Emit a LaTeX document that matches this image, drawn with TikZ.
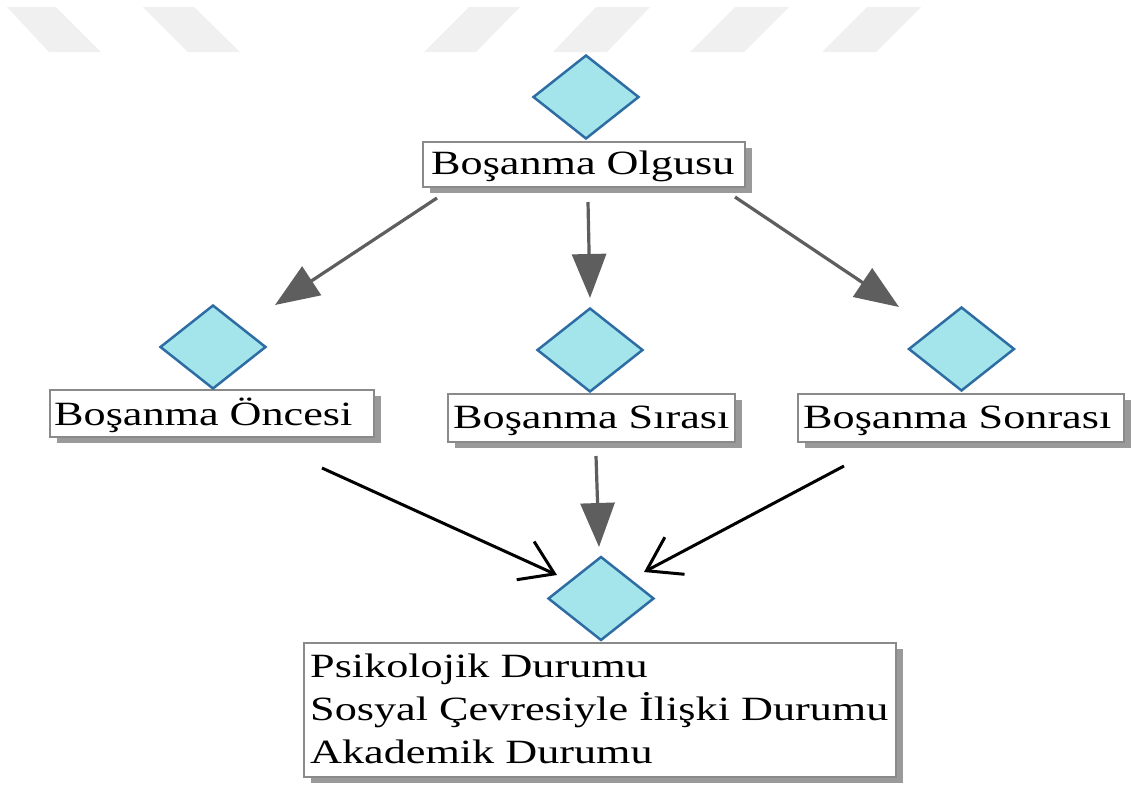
\documentclass[tikz,border=0pt]{standalone}
\usepackage{fontspec}
\newfontfamily\lblfont[FakeStretch=1.3]{Liberation Serif}
\usetikzlibrary{shapes.geometric,arrows.meta,shadows}
\definecolor{dfill}{HTML}{A4E5EC}
\definecolor{dline}{HTML}{2E6DA4}
\definecolor{bline}{HTML}{8A8A8A}
\definecolor{shcol}{HTML}{9A9A9A}
\definecolor{agray}{HTML}{5E5E5E}
\definecolor{wm}{HTML}{F0F0F0}
\begin{document}
\begin{tikzpicture}[x=1pt,y=-1pt,
  stripe/.style={fill=wm, draw=none},
  box/.style={draw=bline, line width=2.5pt, fill=white, inner sep=0pt,
    general shadow={shadow xshift=7pt, shadow yshift=-6pt, fill=shcol}},
  dia/.style={diamond, draw=dline, fill=dfill, line width=2.5pt,
    minimum width=106pt, minimum height=84pt, inner sep=0pt},
  lbl/.style={font=\lblfont\fontsize{34}{43}\selectfont, inner sep=0pt, anchor=base west},
  garrow/.style={draw=agray, line width=3.2pt, -{Triangle[length=44pt,width=34pt]}},
  barrow/.style={draw=black, line width=3pt, -{Straight Barb[length=32pt,width=42pt]}}
]
\useasboundingbox[fill=white] (0,0) rectangle (1135,785);
% faint background stripes
\fill[stripe] (7,7) -- (56,7) -- (101,52) -- (49,52) -- cycle;
\fill[stripe] (143,7) -- (194,7) -- (240,52) -- (188,52) -- cycle;
\fill[stripe] (469,7) -- (520,7) -- (476,52) -- (424,52) -- cycle;
\fill[stripe] (596,7) -- (650,7) -- (607,52) -- (553,52) -- cycle;
\fill[stripe] (735,7) -- (789,7) -- (744,52) -- (690,52) -- cycle;
\fill[stripe] (867,7) -- (921,7) -- (876,52) -- (822,52) -- cycle;

% boxes
\node[box, minimum width=322pt, minimum height=45pt] (b0) at (584,164.5) {};
\node[box, minimum width=324pt, minimum height=47pt] (b1) at (212,413.5) {};
\node[box, minimum width=287pt, minimum height=48pt] (b2) at (591.5,418) {};
\node[box, minimum width=326pt, minimum height=48pt] (b3) at (961,418) {};
\node[box, minimum width=592pt, minimum height=134pt] (b4) at (600,710) {};

% labels
\node[lbl] (t0) at (431,174) {Boşanma Olgusu};
\node[lbl] (t1) at (54,425) {Boşanma Öncesi};
\node[lbl] (t2) at (453,428) {Boşanma Sırası};
\node[lbl] (t3) at (803,428) {Boşanma Sonrası};
\node[lbl] (t4a) at (310,677) {Psikolojik Durumu};
\node[lbl] (t4b) at (310,720) {Sosyal Çevresiyle İlişki Durumu};
\node[lbl] (t4c) at (310,763) {Akademik Durumu};

% diamonds
\node[dia] (d0) at (586,97) {};
\node[dia] (d1) at (213,347) {};
\node[dia] (d2) at (590,350) {};
\node[dia] (d3) at (961.5,349) {};
\node[dia] (d4) at (601,598.5) {};

% connector ends
\coordinate (s1) at (437,198);
\coordinate (e1) at (275,305);
\coordinate (s2) at (588,202);
\coordinate (e2) at (590,298);
\coordinate (s3) at (735,197);
\coordinate (e3) at (899,307);
\coordinate (s4) at (322,468);
\coordinate (e4) at (557,575);
\coordinate (s5) at (596,456);
\coordinate (e5) at (599,547);
\coordinate (s6) at (844,466);
\coordinate (e6) at (644,572);

\draw[garrow] (s1) -- (e1);
\draw[garrow] (s2) -- (e2);
\draw[garrow] (s3) -- (e3);
\draw[barrow] (s4) -- (e4);
\draw[garrow] (s5) -- (e5);
\draw[barrow] (s6) -- (e6);
\end{tikzpicture}
\end{document}
